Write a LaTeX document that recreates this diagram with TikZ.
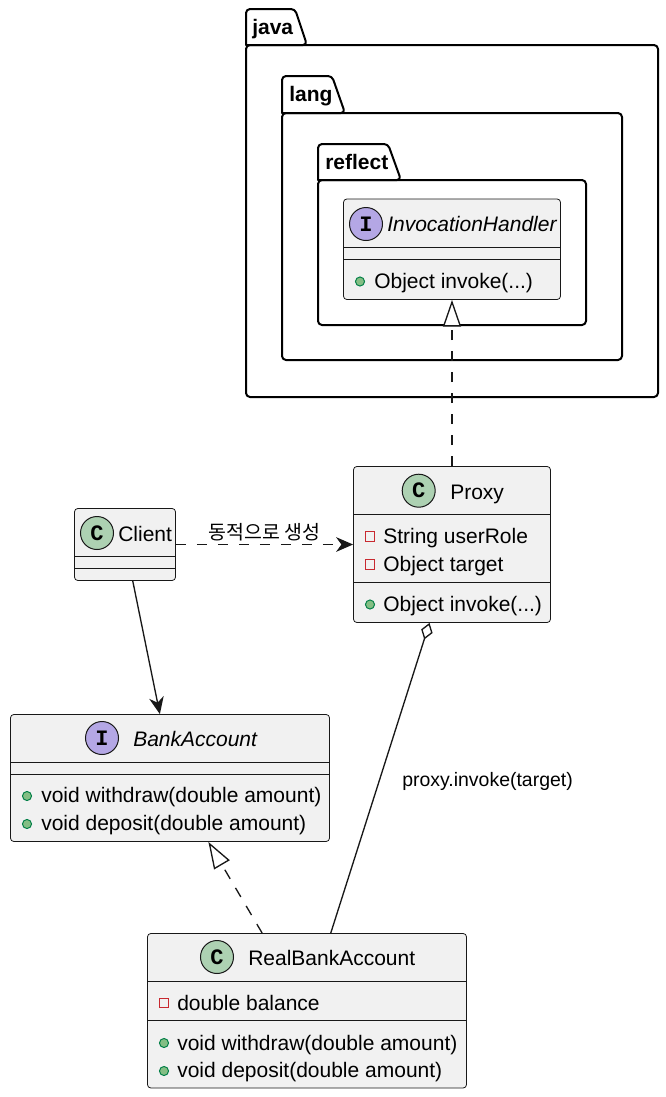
\documentclass[tikz,border=0pt]{standalone}
\usepackage{fontspec}
\setmainfont{Liberation Sans}
\setmonofont{Liberation Mono}
\newfontfamily\krfont{Noto Sans CJK KR}
\usetikzlibrary{arrows.meta}
\definecolor{boxfill}{HTML}{F1F1F1}
\definecolor{boxline}{HTML}{181818}
\definecolor{classicon}{HTML}{ADD1B2}
\definecolor{ifaceicon}{HTML}{B4A7E5}
\definecolor{pubfill}{HTML}{84BE84}
\definecolor{publine}{HTML}{038048}
\definecolor{privline}{HTML}{C82930}
\tikzset{
	classbox/.style 2 args = {draw=boxline,fill=boxfill,line width=0.6pt,rounded corners=2.5pt,inner sep=0pt,minimum width=#1*0.75pt,minimum height=#2*0.75pt},
	sepline/.style = {draw=boxline,line width=0.6pt},
	pkgline/.style = {draw=black,line width=1.5pt,line join=round},
	icon/.style = {circle,draw=boxline,line width=0.75pt,inner sep=0pt,minimum size=24.75pt,font=\ttfamily\bfseries\fontsize{16.5}{18}\selectfont},
	classicn/.style = {icon,fill=classicon},
	ifaceicn/.style = {icon,fill=ifaceicon},
	txt/.style = {anchor=base west,inner sep=0pt,font=\fontsize{15.75}{18}\selectfont},
	itxt/.style = {txt,font=\itshape\fontsize{15.75}{18}\selectfont},
	pkgtxt/.style = {txt,font=\bfseries\fontsize{15.75}{18}\selectfont},
	pubdot/.style = {circle,draw=publine,fill=pubfill,line width=0.75pt,inner sep=0pt,minimum size=6.8pt},
	privdot/.style = {rectangle,draw=privline,line width=0.75pt,inner sep=0pt,minimum size=6.8pt},
	conn/.style = {draw=boxline,line width=1pt},
	dashline/.style = {conn,dash pattern=on 7.875pt off 7.875pt},
	headopen/.style = {-{Stealth[length=12.75pt,width=11pt,inset=4pt]}},
	headtri/.style = {-{Triangle[open,length=20pt,width=13.5pt,fill=white]}},
}
\begin{document}
\begin{tikzpicture}[x = 0.75pt,y = -0.75pt]
	\useasboundingbox (0,0) rectangle (666,1097);
	% packages
	\draw[pkgline,rounded corners=3pt] (246,45) rectangle (658,397);
	\draw[pkgline] (246,45) [rounded corners=3pt] -- (246,9) -- (295,9) -- (307,45) [sharp corners] -- cycle;
	\node[pkgtxt] (java) at (252,34.3) {java};
	\draw[pkgline,rounded corners=3pt] (282,113) rectangle (622,360);
	\draw[pkgline] (282,113) [rounded corners=3pt] -- (282,76) -- (332,76) -- (345,113) [sharp corners] -- cycle;
	\node[pkgtxt] (lang) at (289,101.7) {lang};
	\draw[pkgline,rounded corners=3pt] (318,180) rectangle (586,325);
	\draw[pkgline] (318,180) [rounded corners=3pt] -- (318,144) -- (388,144) -- (401,180) [sharp corners] -- cycle;
	\node[pkgtxt] (reflect) at (325,169.3) {reflect};
	% InvocationHandler
	\node[classbox={217}{100.5}] (handler) at (452,249.25) {};
	\draw[sepline] (344,247.5) -- (560,247.5) (344,259.5) -- (560,259.5);
	\node[ifaceicn] (handlerIcon) at (366,224) {I};
	\node[itxt] (handlerName) at (387,231.7) {InvocationHandler};
	\node[pubdot] (handlerDot) at (360,281.5) {};
	\node[txt] (handlerInvoke) at (374,288.5) {Object invoke(...)};
	% Proxy
	\node[classbox={197}{156}] (proxy) at (452,544.5) {};
	\draw[sepline] (354,514) -- (550,514) (354,582.5) -- (550,582.5);
	\node[classicn] (proxyIcon) at (418.7,490.7) {C};
	\node[txt] (proxyName) at (450,499.7) {Proxy};
	\node[privdot] (proxyRoleDot) at (370,536.5) {};
	\node[txt] (proxyRole) at (383,543) {String userRole};
	\node[privdot] (proxyTargetDot) at (370,564.5) {};
	\node[txt] (proxyTarget) at (383,571) {Object target};
	\node[pubdot] (proxyDot) at (370,604.5) {};
	\node[txt] (proxyInvoke) at (383,611.5) {Object invoke(...)};
	% Client
	\node[classbox={101}{72}] (client) at (125,544.5) {};
	\draw[sepline] (75,556.5) -- (175,556.5) (75,568.5) -- (175,568.5);
	\node[classicn] (clientIcon) at (97,533) {C};
	\node[txt] (clientName) at (118,541) {Client};
	% BankAccount
	\node[classbox={319}{127}] (bank) at (170,778) {};
	\draw[sepline] (11,762) -- (329,762) (11,774.5) -- (329,774.5);
	\node[ifaceicn] (bankIcon) at (102,738) {I};
	\node[itxt] (bankName) at (133,746.7) {BankAccount};
	\node[pubdot] (bankDrawDot) at (27,796) {};
	\node[txt] (bankDraw) at (41,802.7) {void withdraw(double amount)};
	\node[pubdot] (bankDepoDot) at (27,824) {};
	\node[txt] (bankDepo) at (41,830.7) {void deposit(double amount)};
	% RealBankAccount
	\node[classbox={319}{154.5}] (real) at (307,1010.75) {};
	\draw[sepline] (148,981.5) -- (466,981.5) (148,1020.5) -- (466,1020.5);
	\node[classicn] (realIcon) at (217,957) {C};
	\node[txt] (realName) at (248,965.7) {RealBankAccount};
	\node[privdot] (realBalDot) at (164,1003) {};
	\node[txt] (realBal) at (177,1010) {double balance};
	\node[pubdot] (realDrawDot) at (164,1043) {};
	\node[txt] (realDraw) at (177,1050) {void withdraw(double amount)};
	\node[pubdot] (realDepoDot) at (164,1071) {};
	\node[txt] (realDepo) at (177,1077.7) {void deposit(double amount)};
	% connectors
	\draw[dashline,headtri] (proxy) -- (handler);
	\draw[dashline,headopen] (client) -- (proxy) node [pos = 0.5,above = 2pt,font=\krfont\fontsize{14.6}{16}\selectfont,inner sep=0pt,name=clientLabel] {동적으로 생성};
	\draw[conn,headopen] (client.-78.2) -- (bank.99.8);
	\draw[dashline,headtri] (real.120.2) -- (bank.-59.8);
	\draw[conn,headopen,{Diamond[open,length=13pt,width=9pt,fill=white]}-] (proxy.-106.4) -- (real.73.4);
	\node[txt,font=\fontsize{14.6}{16}\selectfont] (realLabel) at (402,786) {proxy.invoke(target)};
\end{tikzpicture}
\end{document}
